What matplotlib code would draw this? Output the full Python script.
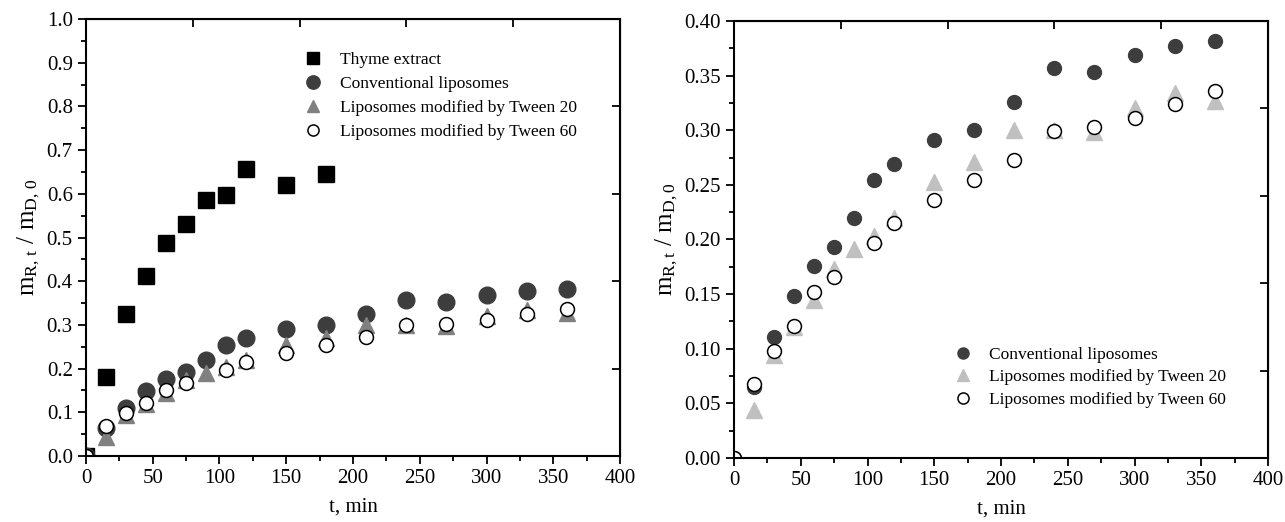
import matplotlib

matplotlib.use("Agg")
import matplotlib.pyplot as plt
from matplotlib.ticker import MultipleLocator

plt.rcParams["font.family"] = ["Liberation Serif", "DejaVu Serif"]
plt.rcParams["mathtext.fontset"] = "custom"
plt.rcParams["mathtext.rm"] = "Liberation Serif"
plt.rcParams["mathtext.it"] = "Liberation Serif"

# release data, t in min
t_thyme = [0, 15, 30, 45, 60, 75, 90, 105, 120, 150, 180]
thyme = [0.0, 0.180, 0.325, 0.413, 0.488, 0.530, 0.586, 0.597, 0.656, 0.621, 0.646]

t_lipo = [0, 15, 30, 45, 60, 75, 90, 105, 120, 150, 180, 210, 240, 270, 300, 330, 360]
conventional = [0.0, 0.065, 0.111, 0.148, 0.176, 0.193, 0.220, 0.254, 0.269, 0.291,
                0.300, 0.326, 0.357, 0.353, 0.369, 0.377, 0.382]
tween20 = [0.0, 0.044, 0.094, 0.120, 0.145, 0.173, 0.191, 0.203, 0.220, 0.253,
           0.271, 0.300, 0.300, 0.298, 0.320, 0.334, 0.327]

t_tween60 = [0, 15, 30, 45, 60, 75, 105, 120, 150, 180, 210, 240, 270, 300, 330, 360]
tween60 = [0.0, 0.068, 0.098, 0.121, 0.152, 0.166, 0.197, 0.215, 0.236, 0.254,
           0.273, 0.299, 0.303, 0.311, 0.324, 0.336]

labels = ["Thyme extract", "Conventional liposomes",
          "Liposomes modified by Tween 20", "Liposomes modified by Tween 60"]


def _style(ax, ymax, ymajor, yminor, yright):
    ax.set_xlim(0, 400)
    ax.set_ylim(0, ymax)
    ax.xaxis.set_major_locator(MultipleLocator(50))
    ax.xaxis.set_minor_locator(MultipleLocator(25))
    ax.yaxis.set_major_locator(MultipleLocator(ymajor))
    ax.yaxis.set_minor_locator(MultipleLocator(yminor))
    ax.tick_params(which="both", direction="out", width=1.3, labelsize=15)
    ax.tick_params(which="major", length=6)
    ax.tick_params(which="minor", length=3.5)
    for sp in ax.spines.values():
        sp.set_linewidth(1.5)
    top = ax.secondary_xaxis("top")
    top.set_xticks([80, 160, 240, 320])
    top.tick_params(direction="in", length=6, width=1.3, labeltop=False)
    right = ax.secondary_yaxis("right")
    right.set_yticks(yright)
    right.tick_params(direction="in", length=6, width=1.3, labelright=False)
    ax.set_xlabel("t, min", fontsize=15, labelpad=7)


fig = plt.figure(figsize=(12.85, 5.22), dpi=100)
ax1 = fig.add_axes([0.0669, 0.1264, 0.4156, 0.8372])
ax2 = fig.add_axes([0.5712, 0.1226, 0.4156, 0.8372])

ax1.plot(t_thyme, thyme, ls="none", marker="s", ms=11, color="black", label=labels[0])
ax1.plot(t_lipo, conventional, ls="none", marker="o", ms=12, color="#3d3d3d", label=labels[1])
ax1.plot(t_lipo, tween20, ls="none", marker="^", ms=11, color="#808080", label=labels[2])
ax1.plot(t_tween60, tween60, ls="none", marker="o", ms=10, mfc="white", mec="black",
         mew=1.1, label=labels[3])
_style(ax1, 1.0, 0.1, 0.05, [0.2, 0.4, 0.6, 0.8])
ax1.set_ylabel(r"$\mathrm{m_{R,\,t}\ /\ m_{D,\,0}}$", fontsize=18, labelpad=3)
ax1.legend(loc="upper left", bbox_to_anchor=(0.393, 0.945), frameon=False, fontsize=12.5,
           markerscale=0.8, handlelength=1.0, handletextpad=1.05, labelspacing=0.45,
           borderpad=0)

ax2.plot(t_lipo, conventional, ls="none", marker="o", ms=10, color="#3d3d3d", label=labels[1])
ax2.plot(t_lipo, tween20, ls="none", marker="^", ms=11, color="#c0c0c0", label=labels[2])
ax2.plot(t_tween60, tween60, ls="none", marker="o", ms=10, mfc="white", mec="black",
         mew=1.1, label=labels[3])
_style(ax2, 0.40, 0.05, 0.025, [0.08, 0.16, 0.24, 0.32])
ax2.yaxis.set_major_formatter(plt.FormatStrFormatter("%.2f"))
ax2.set_ylabel(r"$\mathrm{m_{R,t}\ /\ m_{D,0}}$", fontsize=18, labelpad=3)
ax2.legend(loc="upper left", bbox_to_anchor=(0.397, 0.275), frameon=False, fontsize=12.5,
           markerscale=0.8, handlelength=1.0, handletextpad=1.0, labelspacing=0.38,
           borderpad=0)

fig.savefig("out.png", dpi=100)
